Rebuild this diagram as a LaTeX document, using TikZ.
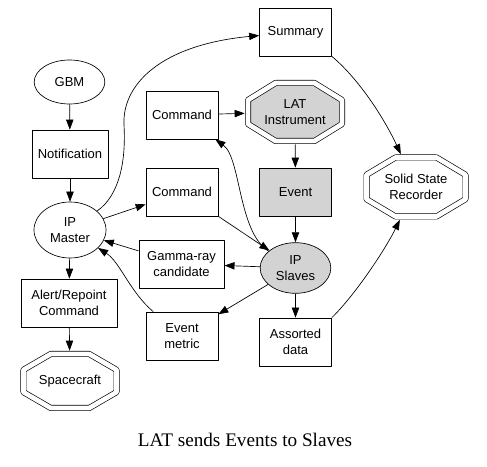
\documentclass[tikz,border=0pt]{standalone}
\usepackage{fontspec}
\setmainfont{Liberation Sans}
\newfontfamily\capfont{Liberation Serif}
\usetikzlibrary{shapes.geometric,arrows.meta}
\definecolor{lgray}{RGB}{211,211,211}
\tikzset{
  box/.style={draw,rectangle,minimum width=54pt,minimum height=36pt,align=center,inner sep=2pt},
  oval/.style={draw,ellipse,align=center,inner sep=0pt},
  octo/.style={rectangle,align=center,inner sep=0pt},
  arr/.style={-{Triangle[length=7.5pt,width=5.5pt]}}
}
% double octagon round a coordinate: centre, half width, half height, fill
\newcommand\dbloct[4]{%
  \draw[double,double distance=3.5pt,fill=#4]
    ([shift={(-0.414*#2,#3)}]#1) -- ([shift={(0.414*#2,#3)}]#1)
    -- ([shift={(#2,0.414*#3)}]#1) -- ([shift={(#2,-0.414*#3)}]#1)
    -- ([shift={(0.414*#2,-#3)}]#1) -- ([shift={(-0.414*#2,-#3)}]#1)
    -- ([shift={(-#2,-0.414*#3)}]#1) -- ([shift={(-#2,0.414*#3)}]#1) -- cycle;}
\begin{document}
\begin{tikzpicture}[x=0.75pt,y=-0.75pt,line width=0.5pt,line join=round,
    font=\fontsize{9.75}{12}\selectfont]
  \useasboundingbox (0,0) rectangle (487,467);

  \coordinate (spaceC) at (70,381);
  \coordinate (latC) at (295,112);
  \coordinate (ssrC) at (416,187);

  % Octagon outlines
  \dbloct{spaceC}{34.875pt}{20.25pt}{white}
  \dbloct{latC}{35.25pt}{21.75pt}{lgray}
  \dbloct{ssrC}{37.125pt}{22.125pt}{white}

  % Left column
  \node[oval,minimum width=53pt,minimum height=33pt] (gbm) at (69.5,82) {GBM};
  \node[box,minimum width=57pt] (notif) at (70,154) {Notification};
  \node[oval,minimum width=54pt,minimum height=42pt] (master) at (70,230) {IP\\Master};
  \node[box,minimum width=72pt] (alert) at (69,303) {Alert/Repoint\\Command};
  \node[octo,minimum width=74.25pt,minimum height=45pt] (space) at (spaceC) {Spacecraft};

  % Middle column
  \node[box] (cmdA) at (182,115) {Command};
  \node[box] (cmdB) at (182,192) {Command};
  \node[box,minimum width=64pt] (gamma) at (181.5,264) {Gamma-ray\\candidate};
  \node[box] (metric) at (182,336) {Event\\metric};

  % Right column
  \node[box] (summary) at (295.5,32) {Summary};
  \node[octo,minimum width=75pt,minimum height=48pt] (lat) at (latC) {LAT\\Instrument};
  \node[box,fill=lgray] (event) at (295.5,192) {Event};
  \node[oval,fill=lgray,minimum width=53pt,minimum height=38pt] (slaves) at (295.5,268) {IP\\Slaves};
  \node[box] (assorted) at (295.5,342) {Assorted\\data};
  \node[octo,minimum width=78.75pt,minimum height=48.75pt] (ssr) at (ssrC) {Solid State\\Recorder};

  % Straight edges
  \draw[arr] (gbm) -- (notif);
  \draw[arr] (notif) -- (master);
  \draw[arr] (master) -- (alert);
  \draw[arr] (alert) -- (space);
  \draw[arr] (master) -- (cmdB);
  \draw[arr] (cmdA) -- (lat);
  \draw[arr] (lat) -- (event);
  \draw[arr] (event) -- (slaves);
  \draw[arr] (cmdB) -- (slaves);
  \draw[arr] (slaves) -- (gamma);
  \draw[arr] (gamma) -- (master);
  \draw[arr] (slaves) -- (metric);
  \draw[arr] (slaves) -- (assorted);

  % Curved edges
  \coordinate (via) at (124,125);
  \draw[arr] (master) .. controls (120,195) and (126,160) .. (via)
    .. controls (122,85) and (160,45) .. (summary);
  \draw[arr] (slaves) .. controls (238,232) and (241,158) .. (cmdA);
  \draw[arr] (metric) .. controls (130,292) and (120,262) .. (master);
  \draw[arr] (assorted.north east) .. controls (355,295) and (385,250) .. (ssr);
  \draw[arr] (summary.south east) .. controls (360,80) and (385,120) .. (ssr);

  % Caption
  \node[font=\capfont\fontsize{14.4}{17}\selectfont] (caption) at (245,440) {LAT sends Events to Slaves};
\end{tikzpicture}
\end{document}
